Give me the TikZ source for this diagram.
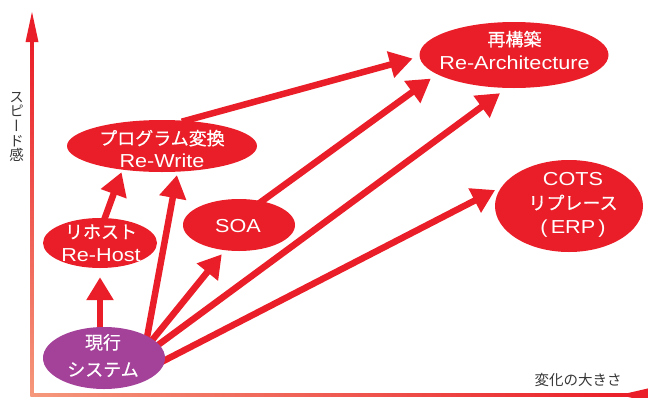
\documentclass[tikz,border=0pt]{standalone}
\usepackage{fontspec}
\setmainfont{Liberation Sans}[FakeStretch=1.15]
\newfontfamily\jp{Noto Sans CJK JP}
\newfontfamily\jpb{Noto Sans CJK JP}[FakeBold=0.5]
\newfontfamily\jpv{Noto Sans CJK JP}[RawFeature=+vert]
\usetikzlibrary{arrows.meta,backgrounds,shapes.geometric}
\definecolor{myred}{RGB}{234,30,40}
\definecolor{mypurple}{RGB}{164,66,154}
\definecolor{salmon}{RGB}{245,152,124}
\definecolor{labelgray}{RGB}{55,55,55}
\newcommand\jtxt[1]{{\jpb\fontsize{18}{23}\selectfont #1}}
\tikzset{
  bubble/.style={ellipse, fill=myred, draw=none, inner sep=0pt},
  txt/.style={text=white, align=center, inner sep=0pt, font=\fontsize{18.8}{23}\selectfont},
  arr/.style={draw=myred, line width=6.5pt, -{Triangle[length=23pt,width=26pt]}, shorten <=-4pt},
}
\begin{document}
\begin{tikzpicture}[x=1pt,y=-1pt]
\useasboundingbox (0,0) rectangle (648,397);
\clip (0,0) rectangle (648,397);
% axes
\shade[top color=myred, bottom color=salmon] (30.5,40) rectangle (33.5,396.5);
\fill[myred] (25.5,42) -- (32,12) -- (38.5,42) -- cycle;
\shade[left color=salmon, right color=myred] (30.5,393.5) rectangle (630,396.5);
\fill[myred] (626,393.5) -- (652,387.5) -- (675,395) -- (652,402.5) -- (626,396.5) -- cycle;
\node[text=labelgray, inner sep=0pt, font=\jp\fontsize{14.5}{14.6}\selectfont] (xl) at (578,380) {変化の大きさ};
\node[text=labelgray, inner sep=0pt, align=center, font=\jpv\fontsize{14.5}{14.6}\selectfont] (yl) at (16.5,127) {ス\\ピ\\ー\\ド\\感};
% bubbles
\node[bubble, fill=mypurple, minimum width=122pt, minimum height=62pt] (gen) at (104,358) {};
\node[bubble, minimum width=114pt, minimum height=50pt] (rh) at (100,243) {};
\node[bubble, minimum width=190pt, minimum height=52pt] (rw) at (162,146) {};
\node[bubble, minimum width=112pt, minimum height=52pt] (soa) at (239,225) {};
\node[bubble, minimum width=189pt, minimum height=66pt] (ra) at (514,55) {};
\node[bubble, minimum width=148pt, minimum height=92pt] (cots) at (569,206) {};
% texts
\node[txt, font=\fontsize{18.8}{25}\selectfont] (gent) at (103,355.5) {\jtxt{現行}\\[2pt]\jtxt{システム}};
\node[txt] (rht) at (101,243) {\jtxt{リホスト}\\Re-Host};
\node[txt] (rwt) at (162,149) {\jtxt{プログラム変換}\\Re-Write};
\node[txt] (soat) at (238,226.5) {SOA};
\node[txt] (rat) at (514.5,50) {\jtxt{再構築}\\Re-Architecture};
\node[txt, font=\fontsize{18.8}{24}\selectfont] (cotst) at (573,205) {COTS\\\jtxt{リプレース}\\(\,ERP\,)};
% arrows
\begin{scope}[on background layer]
\draw[arr, shorten >=9pt] (rh.south |- gen.north) -- (rh.south);
\draw[arr, shorten >=2.5pt] (rh.79) -- (rw.211);
\draw[arr, shorten >=3.3pt] (gen.27) -- (rw.301);
\draw[arr, shorten >=5pt] (gen.21) -- (soa.241);
\draw[arr, shorten >=8.6pt] (gen.14) -- (ra.258);
\draw[arr, shorten >=7.3pt] (gen.358) -- (cots.164);
\draw[arr, shorten >=7pt] (rw.47) -- (ra.181);
\draw[arr, shorten >=7.4pt] (soa.46) -- (ra.194);
\end{scope}
\end{tikzpicture}
\end{document}
